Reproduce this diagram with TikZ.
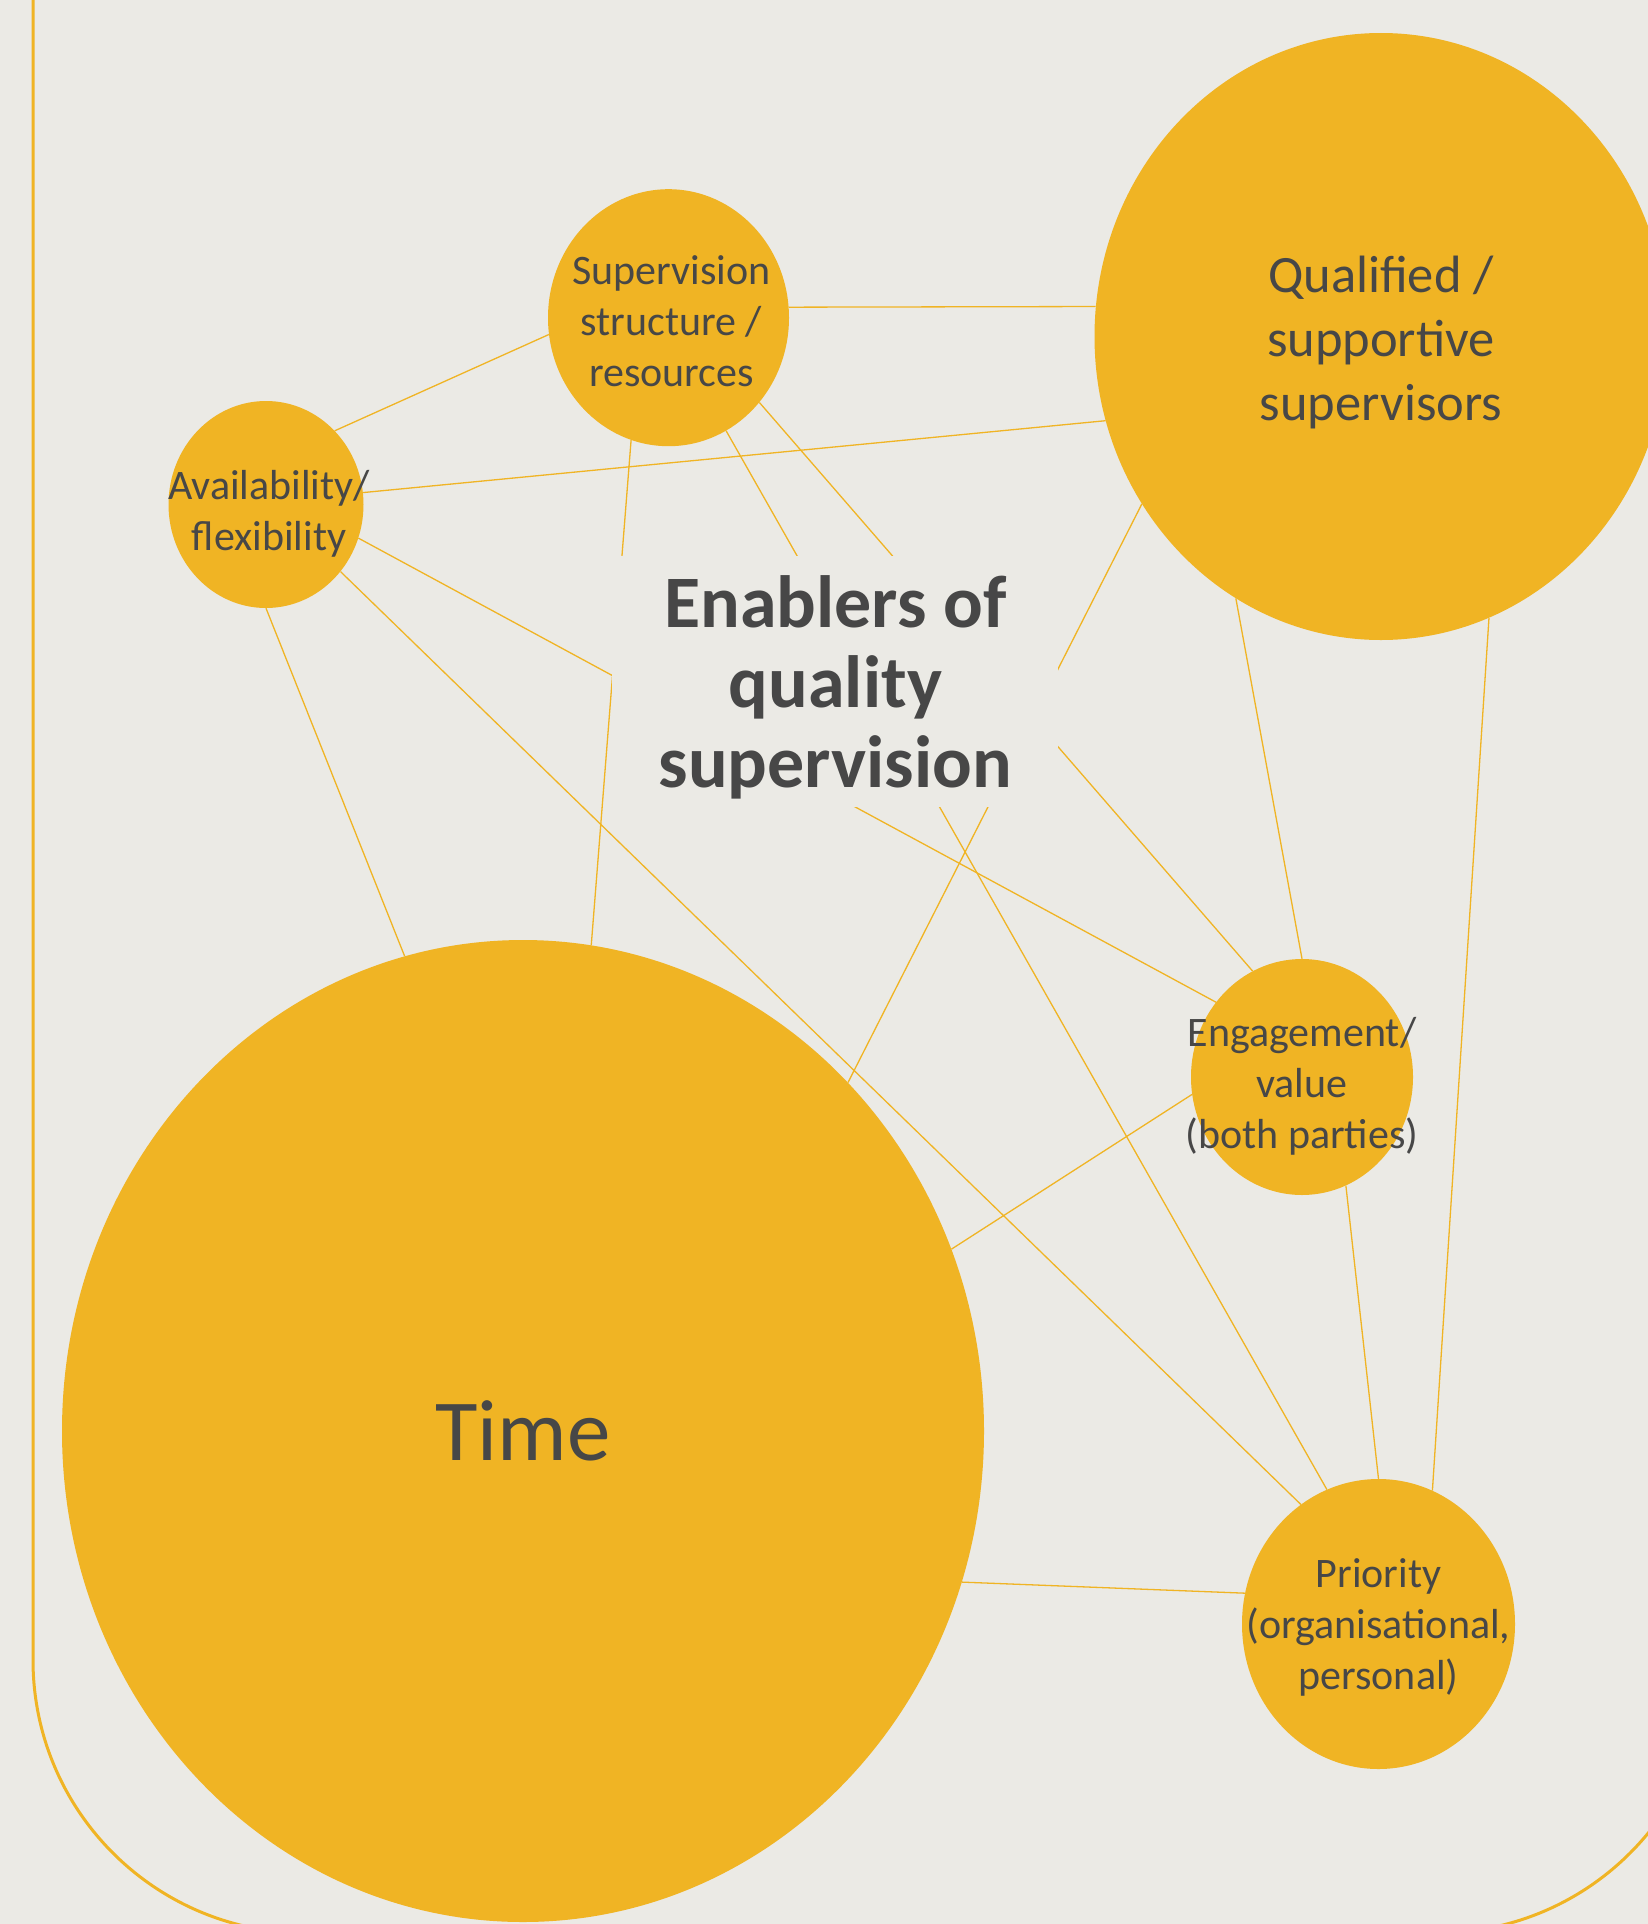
\documentclass[tikz,border=0pt]{standalone}
\usepackage{fontspec}
\setmainfont{Carlito}
\usetikzlibrary{shapes.geometric}
\definecolor{gold}{RGB}{240,180,36}
\definecolor{paper}{RGB}{235,234,229}
\definecolor{ink}{RGB}{71,71,71}

\begin{document}
\begin{tikzpicture}[x=1pt, y=-1pt,
  blob/.style={ellipse, fill=gold, inner sep=0pt},
  blobtext/.style={text=ink, align=center, text depth=0pt, font=\fontsize{42pt}{51pt}\selectfont},
  link/.style={gold, line width=1.3pt}]
% Canvas
\useasboundingbox (0,0) rectangle (1648,1924);
\fill[paper] (0,0) rectangle (1648,1924);
\clip (0,0) rectangle (1648,1924);

% Outer frame
\draw[gold, line width=3pt, rounded corners=273pt] (33,-400) rectangle (1710,1933);

% Circles
\node[blob, minimum width=241pt, minimum height=257pt,
  label={[blobtext, yshift=-3pt, xshift=3pt]center:Supervision\\structure /\\resources}] (sup) at (668.5,317.7) {};
\node[blob, minimum width=573pt, minimum height=607pt,
  label={[blobtext, yshift=-2pt, font=\fontsize{52.5pt}{64pt}\selectfont]center:Qualified /\\supportive\\supervisors}] (qual) at (1381,336.5) {};
\node[blob, minimum width=195pt, minimum height=207pt,
  label={[blobtext, yshift=-6pt, xshift=3pt]center:Availability/\\flexibility}] (avail) at (266,504.5) {};
\node[blob, minimum width=922pt, minimum height=982pt,
  label={[blobtext, font=\fontsize{87pt}{100pt}\selectfont]center:Time}] (time) at (523,1431) {};
\node[blob, minimum width=222pt, minimum height=236pt,
  label={[blobtext, yshift=-6pt]center:Engagement/\\value\\(both parties)}] (eng) at (1302,1077) {};
\node[blob, minimum width=273pt, minimum height=290pt,
  label={[blobtext]center:Priority\\(organisational,\\personal)}] (prio) at (1378.5,1624) {};

% Links
\draw[link] (sup.5) -- (qual.174);
\draw[link] (avail.47) -- (sup.188);
\draw[link] (avail.7) -- (qual.197);
\draw[link] (sup.253) -- (time.82);
\draw[link] (sup.297) -- (prio.111);
\draw[link] (sup.317) -- (eng.115);
\draw[link] (avail.south) -- (time.104);
\draw[link] (avail.318) -- (prio.123);
\draw[link] (avail.340) -- (eng.139);
\draw[link] (qual.215) -- (time.47);
\draw[link] (qual.241) -- (eng.north);
\draw[link] (qual.291) -- (prio.68);
\draw[link] (eng.189) -- (time.23);
\draw[link] (eng.292) -- (prio.north);
\draw[link] (time.341) -- (prio.167);

% Title box (hides the links behind it)
\node[fill=paper, minimum width=446pt, minimum height=251pt, inner sep=0pt,
  text=ink, align=center, text depth=0pt,
  font=\bfseries\fontsize{74pt}{80pt}\selectfont] (title) at (835.4,681.2)
  {Enablers of\\quality\\supervision};

\end{tikzpicture}
\end{document}
